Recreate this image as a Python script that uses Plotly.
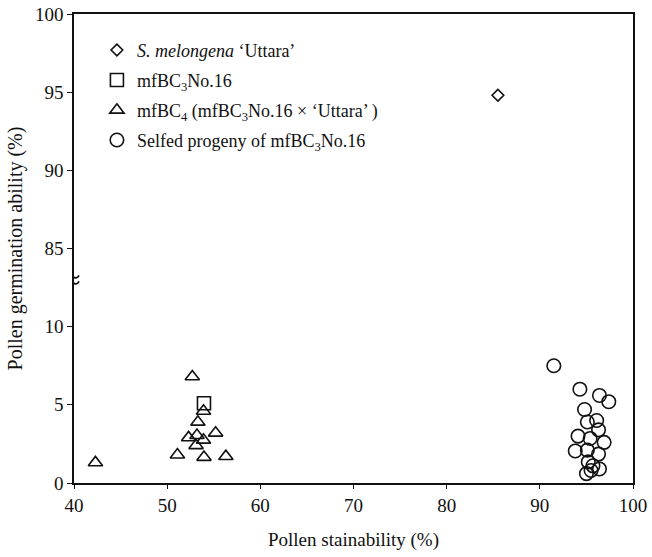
import plotly.graph_objects as go

# ---- data (x = pollen stainability %, y = pollen germination ability %) ----
uttara_x = [85.5]
uttara_y = [94.8]

no16_x = [53.95]
no16_y = [5.1]

bc4_x = [42.3, 52.7, 53.9, 53.3, 55.2, 52.3, 53.2, 53.9, 53.1, 51.1, 53.95, 56.3]
bc4_y = [1.3, 6.8, 4.6, 3.9, 3.2, 2.9, 3.05, 2.75, 2.4, 1.8, 1.65, 1.7]

selfed_x = [91.5, 94.3, 96.4, 97.4, 94.8, 95.1, 96.1, 96.3, 94.1, 95.4,
            96.9, 93.8, 95.1, 96.3, 95.2, 95.7, 96.4, 95.0, 95.5]
selfed_y = [7.5, 6.0, 5.6, 5.2, 4.7, 3.9, 4.0, 3.4, 3.0, 2.85,
            2.6, 2.05, 2.1, 1.85, 1.35, 1.1, 0.9, 0.6, 0.8]

y_tick_labels = ["0", "5", "10", "85", "90", "95", "100"]
x_tick_vals = [40, 50, 60, 70, 80, 90, 100]

# broken y axis: 0-10 drawn as is, 85-100 shifted down to sit on 15-30
BREAK_LOW, BREAK_HIGH = 10, 85
def ty(v):
    return v if v <= BREAK_LOW else v - (BREAK_HIGH - BREAK_LOW) + 5

y_tick_vals = [ty(float(t)) for t in y_tick_labels]

FONT = "Liberation Serif, Times New Roman, serif"
INK = "#111111"

fig = go.Figure()

def add(xs, ys, name, symbol, size, group):
    fig.add_trace(go.Scatter(
        x=xs, y=[ty(v) for v in ys], mode="markers", name=name,
        legendgroup=group,
        marker=dict(symbol=symbol, size=size, color=INK,
                    line=dict(width=1.6, color=INK)),
    ))

add(uttara_x, uttara_y, "<i>S. melongena</i> \u2018Uttara\u2019", "diamond-open", 9, "a")
add(no16_x, no16_y, "mfBC<sub>3</sub>No.16", "square-open", 13, "b")
add(bc4_x, bc4_y, "mfBC<sub>4</sub> (mfBC<sub>3</sub>No.16 \u00d7 \u2018Uttara\u2019 )",
    "triangle-up-open", 12.5, "c")
add(selfed_x, selfed_y, "Selfed progeny of mfBC<sub>3</sub>No.16", "circle-open", 13.5, "d")

# axis break mark on the y axis
brk = 13.0
fig.add_shape(type="rect", xref="x", yref="y", xsizemode="pixel", ysizemode="pixel",
              xanchor=40, yanchor=brk, x0=-3, x1=3, y0=-5, y1=5,
              fillcolor="white", line=dict(width=0), layer="above")
for off in (-3, 3):
    fig.add_shape(type="path", xref="x", yref="y", xsizemode="pixel", ysizemode="pixel",
                  xanchor=40, yanchor=brk,
                  path=f"M -5,{off-1.5} C -2,{off+3} 2,{off-5} 5,{off+1.5}",
                  line=dict(width=1.8, color=INK), layer="above")

fig.update_layout(
    width=652, height=557,
    margin=dict(l=74, r=19, t=14, b=74),
    paper_bgcolor="white", plot_bgcolor="white",
    font=dict(family=FONT, size=18, color=INK),
    showlegend=True,
    legend=dict(x=0.041, y=0.962, xanchor="left", yanchor="top",
                bgcolor="rgba(0,0,0,0)", borderwidth=0,
                font=dict(family=FONT, size=18, color=INK),
                traceorder="grouped", tracegroupgap=3.6),
    xaxis=dict(range=[40, 100], tickvals=x_tick_vals, showgrid=False, zeroline=False,
               automargin=False, ticklabeloverflow="allow",
               showline=True, linecolor=INK, linewidth=1.5, mirror=True,
               ticks="outside", ticklen=4, tickwidth=1.2, tickcolor=INK,
               tickfont=dict(size=19),
               title=dict(text="Pollen stainability (%)", font=dict(size=19), standoff=18)),
    yaxis=dict(range=[0, 30], tickvals=y_tick_vals, ticktext=y_tick_labels,
               showgrid=False, zeroline=False, automargin=False,
               ticklabeloverflow="allow",
               showline=True, linecolor=INK, linewidth=1.5, mirror=True,
               ticks="outside", ticklen=5, tickwidth=1.2, tickcolor=INK,
               tickfont=dict(size=19),
               title=dict(text="Pollen germination ability (%)", font=dict(size=20), standoff=7)),
)

# drop the browser's default 8px body margin so the figure fills the window exactly
fig.write_html("out.html",
               config={"displayModeBar": False},
               post_script="document.body.style.margin='0';document.body.style.overflow='hidden';")
